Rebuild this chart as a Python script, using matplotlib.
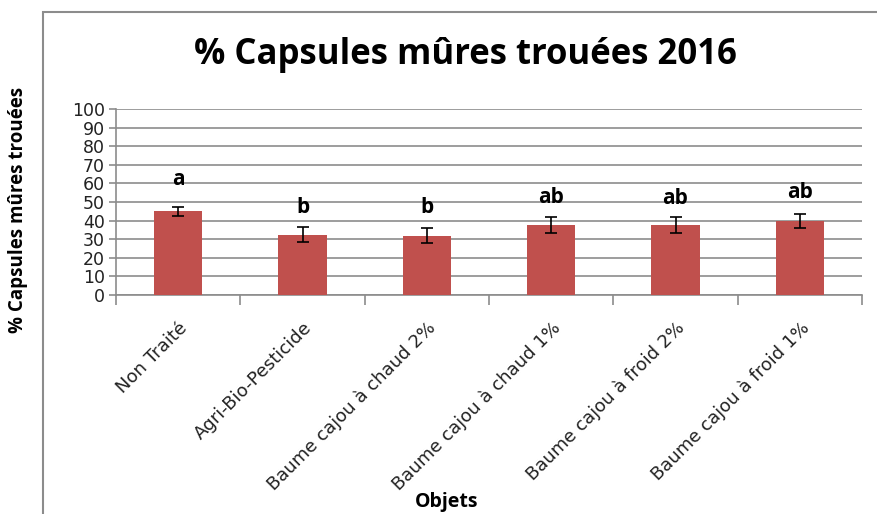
import matplotlib
matplotlib.use("Agg")
import matplotlib.pyplot as plt
import numpy as np
from matplotlib.patches import Rectangle

# data
objets = ["Non Traité", "Agri-Bio-Pesticide", "Baume cajou à chaud 2%",
          "Baume cajou à chaud 1%", "Baume cajou à froid 2%", "Baume cajou à froid 1%"]
valeurs = [45, 32.5, 31.8, 37.5, 37.5, 40]
erreurs = [2.5, 4.0, 4.0, 4.3, 4.3, 3.8]
lettres = ["a", "b", "b", "ab", "ab", "ab"]
lettres_y = [62, 47, 47, 52.5, 52, 55]
yticks = list(range(0, 101, 10))

fig = plt.figure(figsize=(8.77, 5.14), dpi=100)
ax = fig.add_axes([116 / 877, 1 - 295 / 514, (862 - 116) / 877, (295 - 109) / 514])

x = np.arange(len(objets))
ax.bar(x, valeurs, width=0.39, color="#C0504D", zorder=3)
ax.errorbar(x, valeurs, yerr=erreurs, fmt="none", ecolor="black",
            elinewidth=1.2, capsize=4, capthick=1.2, zorder=4)

for xi, lab, ly in zip(x, lettres, lettres_y):
    ax.text(xi, ly, lab, ha="center", va="center", fontsize=15,
            fontweight="bold", family="Open Sans")

ax.set_xlim(-0.5, len(objets) - 0.5)
ax.set_ylim(0, 100)
ax.set_yticks(yticks)
ax.set_yticklabels([str(t) for t in yticks], fontsize=12.5, family="DejaVu Sans", color="#222222")
ax.yaxis.grid(True, color="#8c8c8c", lw=1.2, zorder=0)

# category ticks between bars
ax.set_xticks(np.arange(-0.5, len(objets), 1.0))
ax.set_xticklabels([])
ax.set_xticks(x, minor=True)
ax.set_xticklabels(objets, minor=True, rotation=45, ha="right",
                   rotation_mode="anchor", fontsize=13, family="DejaVu Sans", color="#222222")
ax.tick_params(axis="x", which="minor", length=0, pad=17)
ax.tick_params(axis="x", which="major", length=7, color="#8c8c8c", width=1.2)
ax.tick_params(axis="y", length=5, color="#8c8c8c", width=1.2, pad=3)

for s in ["top", "right"]:
    ax.spines[s].set_visible(False)
for s in ["left", "bottom"]:
    ax.spines[s].set_color("#8c8c8c")
    ax.spines[s].set_linewidth(1.2)

fig.text(465 / 877, 1 - 55 / 514, "% Capsules mûres trouées 2016", ha="center", va="center",
         fontsize=25, fontweight="bold", family="Open Sans")
fig.text(18 / 877, 1 - 210 / 514, "% Capsules mûres trouées", rotation=90, ha="center",
         va="center", fontsize=13.5, fontweight="bold", family="Open Sans")
fig.text(447 / 877, 1 - 502 / 514, "Objets", ha="center", va="center",
         fontsize=14, fontweight="bold", family="Open Sans")

# chart border (cropped on right and bottom)
fig.patches.append(Rectangle((43 / 877, -0.1), 1.2, 1 - 12 / 514 + 0.1, transform=fig.transFigure,
                             fill=False, edgecolor="#8c8c8c", lw=1.5, figure=fig))

fig.savefig("out.png", dpi=100)
